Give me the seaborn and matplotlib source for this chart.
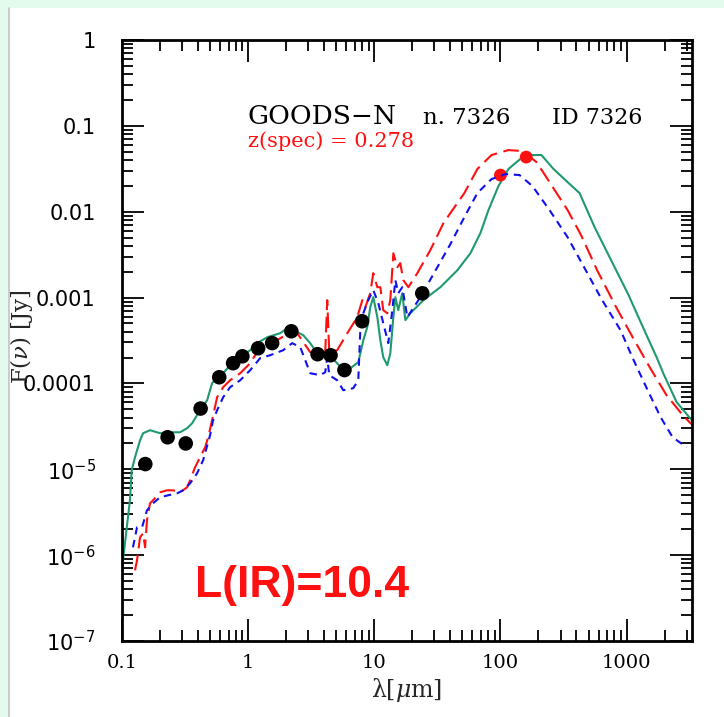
import numpy as np
import pandas as pd
import matplotlib
matplotlib.use("Agg")
import matplotlib.pyplot as plt
import seaborn as sns
from matplotlib.ticker import FixedLocator, FixedFormatter, LogLocator, NullFormatter
from matplotlib.patches import Rectangle
from matplotlib.lines import Line2D

# ---------------- data ----------------
# photometry: wavelength [um], flux [Jy]
phot_lam = [0.153, 0.23, 0.32, 0.42, 0.59, 0.76, 0.90, 1.2, 1.55, 2.2, 3.55, 4.5, 5.8, 8.0, 24.0]
phot_flux = [1.15e-5, 2.36e-5, 2.0e-5, 5.1e-5, 1.18e-4, 1.72e-4, 2.07e-4, 2.57e-4, 2.95e-4,
             4.05e-4, 2.19e-4, 2.13e-4, 1.43e-4, 5.3e-4, 1.12e-3]
fir_lam = [100.0, 160.0]
fir_flux = [0.0267, 0.0433]

# model templates, log10(lambda/um) and log10(F/Jy)
green_loglam = [-1.000, -0.937, -0.923, -0.897, -0.857, -0.833, -0.778, -0.698, -0.619, -0.540,
                -0.484, -0.444, -0.381, -0.325, -0.286, -0.246, -0.198, -0.143, -0.063, 0.016,
                0.071, 0.151, 0.254, 0.310, 0.349, 0.389, 0.437, 0.492, 0.548, 0.627,
                0.706, 0.754, 0.810, 0.873, 0.913, 0.944, 0.968, 0.992, 1.024, 1.048,
                1.071, 1.103, 1.127, 1.151, 1.167, 1.190, 1.222, 1.246, 1.286, 1.389,
                1.524, 1.659, 1.762, 1.841, 1.905, 1.984, 2.063, 2.175, 2.254, 2.325,
                2.421, 2.532, 2.627, 2.746, 2.881, 3.016, 3.151, 3.238, 3.294, 3.397, 3.524]
green_logf = [-6.154, -5.361, -5.012, -4.860, -4.662, -4.580, -4.545, -4.580, -4.569, -4.569,
              -4.522, -4.464, -4.312, -4.196, -3.998, -3.928, -3.881, -3.788, -3.695, -3.613,
              -3.531, -3.462, -3.415, -3.357, -3.345, -3.403, -3.438, -3.531, -3.648, -3.648,
              -3.765, -3.846, -3.823, -3.753, -3.497, -3.345, -3.112, -2.995, -3.228, -3.497,
              -3.695, -3.788, -3.648, -3.228, -2.995, -3.147, -2.949, -3.263, -3.182, -3.030,
              -2.879, -2.681, -2.483, -2.249, -1.981, -1.702, -1.503, -1.364, -1.340, -1.340,
              -1.503, -1.655, -1.783, -2.179, -2.576, -2.972, -3.415, -3.695, -3.893, -4.219, -4.441]

red_loglam = [-0.897, -0.881, -0.857, -0.833, -0.817, -0.802, -0.778, -0.754, -0.698, -0.643,
              -0.595, -0.540, -0.484, -0.460, -0.421, -0.381, -0.341, -0.317, -0.286, -0.246,
              -0.198, -0.143, -0.063, 0.016, 0.071, 0.151, 0.230, 0.333, 0.389, 0.492,
              0.571, 0.611, 0.627, 0.643, 0.706, 0.786, 0.865, 0.905, 0.929, 0.968,
              0.992, 1.024, 1.048, 1.071, 1.103, 1.127, 1.151, 1.183, 1.206, 1.230,
              1.270, 1.341, 1.444, 1.548, 1.603, 1.714, 1.817, 1.929, 2.063, 2.175,
              2.286, 2.389, 2.532, 2.635, 2.770, 2.913, 3.048, 3.183, 3.317, 3.452, 3.524]
red_logf = [-6.177, -6.061, -5.793, -5.746, -5.909, -5.594, -5.396, -5.361, -5.268, -5.245,
            -5.245, -5.268, -5.210, -5.128, -4.977, -4.860, -4.744, -4.627, -4.429, -4.161,
            -4.044, -3.963, -3.881, -3.765, -3.636, -3.578, -3.497, -3.403, -3.415, -3.636,
            -3.648, -3.636, -3.030, -3.636, -3.613, -3.415, -3.228, -3.030, -3.112, -2.949,
            -2.716, -2.879, -2.879, -3.147, -3.182, -3.030, -2.483, -2.646, -2.599, -2.797,
            -2.879, -2.716, -2.448, -2.133, -2.016, -1.783, -1.503, -1.340, -1.282, -1.294,
            -1.422, -1.655, -1.981, -2.261, -2.692, -3.100, -3.462, -3.811, -4.138, -4.382, -4.487]

blue_loglam = [-0.913, -0.881, -0.841, -0.802, -0.754, -0.698, -0.635, -0.563, -0.516, -0.460,
               -0.405, -0.357, -0.302, -0.278, -0.246, -0.198, -0.143, -0.063, 0.016, 0.095,
               0.175, 0.278, 0.349, 0.413, 0.492, 0.571, 0.611, 0.627, 0.643, 0.706,
               0.754, 0.833, 0.873, 0.889, 0.913, 0.952, 0.992, 1.032, 1.071, 1.111,
               1.143, 1.167, 1.190, 1.222, 1.262, 1.365, 1.500, 1.603, 1.714, 1.817,
               1.929, 2.040, 2.151, 2.254, 2.389, 2.532, 2.667, 2.802, 2.952, 3.056,
               3.167, 3.270, 3.365, 3.476]
blue_logf = [-5.909, -5.676, -5.676, -5.478, -5.396, -5.326, -5.303, -5.280, -5.245, -5.163,
             -5.047, -4.895, -4.604, -4.429, -4.312, -4.161, -4.044, -3.963, -3.846, -3.706,
             -3.671, -3.613, -3.531, -3.578, -3.881, -3.904, -3.869, -3.695, -3.904, -3.963,
             -4.079, -4.056, -3.963, -3.380, -3.182, -3.030, -2.914, -3.065, -3.298, -3.531,
             -3.147, -2.797, -2.949, -2.879, -3.228, -2.995, -2.646, -2.378, -2.063, -1.783,
             -1.620, -1.562, -1.573, -1.702, -1.981, -2.296, -2.657, -3.019, -3.380, -3.730,
             -4.079, -4.394, -4.627, -4.744]

x_ticks = [0.1, 1, 10, 100, 1000]
x_ticklabels = ["0.1", "1", "10", "100", "1000"]
y_ticks = [1, 0.1, 0.01, 0.001, 1e-4, 1e-5, 1e-6, 1e-7]
y_ticklabels = ["1", "0.1", "0.01", "0.001", "0.0001", r"$10^{-5}$", r"$10^{-6}$", r"$10^{-7}$"]

title_main = "GOODS\u2212N"
title_n = "n. 7326"
title_id = "ID 7326"
z_text = "z(spec) = 0.278"
lir_text = "L(IR)=10.4"

GREEN = "#1f9a6c"
RED = "#ff1010"
BLUE = "#1010f0"

# ---------------- figure ----------------
sns.set_theme(style="ticks")
plt.rcParams['font.family'] = ['DejaVu Sans']
plt.rcParams['mathtext.fontset'] = 'dejavusans'

W, H = 724, 717
fig = plt.figure(figsize=(W / 100, H / 100), dpi=100)
fig.patch.set_facecolor('#e3fbed')
fig.add_artist(Rectangle((9 / W, 0), 1, 1 - 8 / H, transform=fig.transFigure,
                         facecolor='white', edgecolor='none', zorder=-5))
fig.add_artist(Line2D([8.5 / W, 8.5 / W], [0, 1 - 8 / H], transform=fig.transFigure,
                      color='#c4c4c4', lw=1.2, zorder=-4))

ax = fig.add_axes([122 / W, 1 - 641 / H, 570 / W, 601 / H])
ax.set_facecolor('white')

df_g = pd.DataFrame({'lam': 10 ** np.array(green_loglam), 'flux': 10 ** np.array(green_logf)})
df_r = pd.DataFrame({'lam': 10 ** np.array(red_loglam), 'flux': 10 ** np.array(red_logf)})
df_b = pd.DataFrame({'lam': 10 ** np.array(blue_loglam), 'flux': 10 ** np.array(blue_logf)})
df_p = pd.DataFrame({'lam': phot_lam, 'flux': phot_flux})
df_f = pd.DataFrame({'lam': fir_lam, 'flux': fir_flux})

sns.lineplot(data=df_g, x='lam', y='flux', sort=False, estimator=None, color=GREEN,
             lw=1.5, ax=ax, zorder=2)
sns.lineplot(data=df_r, x='lam', y='flux', sort=False, estimator=None, color=RED,
             lw=1.5, linestyle=(0, (7.5, 3.2)), ax=ax, zorder=2.2)
sns.scatterplot(data=df_f, x='lam', y='flux', color=RED, s=85, edgecolor='none',
                ax=ax, zorder=2.5)
sns.lineplot(data=df_b, x='lam', y='flux', sort=False, estimator=None, color=BLUE,
             lw=1.5, linestyle=(0, (3.6, 2.7)), ax=ax, zorder=3)
sns.scatterplot(data=df_p, x='lam', y='flux', color='black', s=110, edgecolor='none',
                ax=ax, zorder=4)

ax.set_xscale('log')
ax.set_yscale('log')
ax.set_xlim(0.1, 3300)
ax.set_ylim(1e-7, 1)

ax.xaxis.set_major_locator(FixedLocator(x_ticks))
ax.xaxis.set_major_formatter(FixedFormatter(x_ticklabels))
ax.xaxis.set_minor_locator(LogLocator(base=10, subs=np.arange(2, 10), numticks=20))
ax.xaxis.set_minor_formatter(NullFormatter())
ax.yaxis.set_major_locator(FixedLocator(y_ticks))
ax.yaxis.set_major_formatter(FixedFormatter(y_ticklabels))
ax.yaxis.set_minor_locator(LogLocator(base=10, subs=np.arange(2, 10), numticks=20))
ax.yaxis.set_minor_formatter(NullFormatter())

ax.tick_params(which='both', direction='in', top=True, right=True, color='black', width=1.3)
ax.tick_params(which='major', length=16)
ax.tick_params(which='minor', length=8)
ax.tick_params(axis='x', which='major', pad=9, labelsize=14, labelcolor='black')
ax.tick_params(axis='y', which='major', pad=19, labelsize=15, labelcolor='black')
for lab in ax.get_xticklabels():
    lab.set_fontfamily('DejaVu Serif')
for sp in ax.spines.values():
    sp.set_linewidth(2)
    sp.set_color('black')

ax.set_xlabel(r"λ[$\mu$m]", fontsize=17, fontfamily='DejaVu Serif', labelpad=3,
              math_fontfamily='dejavuserif')
ax.set_ylabel(r"F($\nu$) [Jy]", fontsize=16.5, fontfamily='DejaVu Serif',
              math_fontfamily='dejavuserif')
ax.yaxis.set_label_coords(-0.152, 0.507)

ax.text(0.221, 0.861, title_main, transform=ax.transAxes, fontsize=19,
        fontfamily='DejaVu Serif', color='black', va='baseline', ha='left')
ax.text(0.528, 0.861, title_n, transform=ax.transAxes, fontsize=16.5,
        fontfamily='DejaVu Serif', color='black', va='baseline', ha='left')
ax.text(0.754, 0.861, title_id, transform=ax.transAxes, fontsize=16,
        fontfamily='DejaVu Serif', color='black', va='baseline', ha='left')
ax.text(0.221, 0.822, z_text, transform=ax.transAxes, fontsize=15,
        fontfamily='DejaVu Serif', color=RED, va='baseline', ha='left')
ax.text(0.128, 0.073, lir_text, transform=ax.transAxes, fontsize=32,
        fontfamily='Liberation Sans', fontweight='bold', color=RED, va='baseline', ha='left')

fig.savefig('out.png', dpi=100, facecolor=fig.get_facecolor())
